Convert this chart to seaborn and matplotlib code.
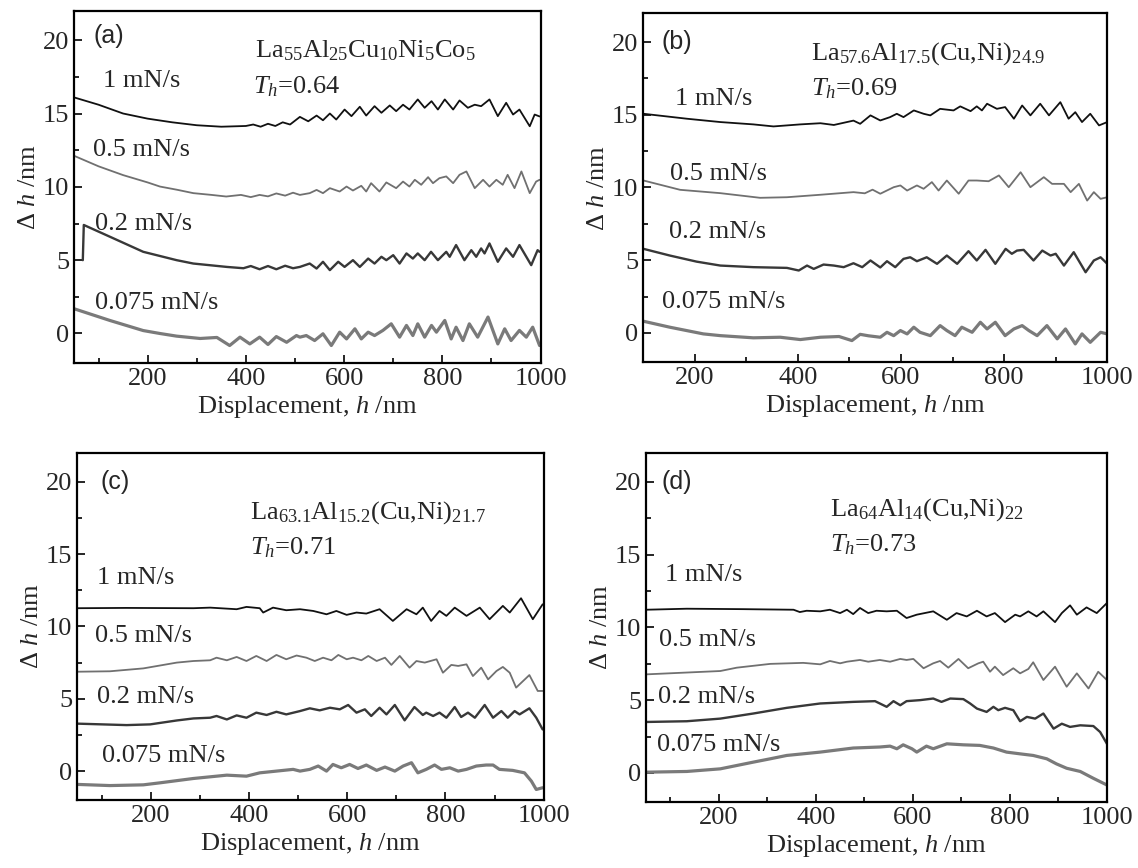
import pandas as pd
import seaborn as sns
import matplotlib.pyplot as plt
from matplotlib.ticker import MultipleLocator

# ---- panel (a) La55Al25Cu10Ni5Co5 ----
a1_x = [50, 100, 150, 200, 250, 300, 350, 400, 415, 430, 445, 460, 475, 490, 510, 527, 544, 557, 571, 584,
        601, 615, 632, 645, 662, 676, 693, 706, 720, 733, 750, 764, 778, 791, 805, 822, 835, 852, 866, 879,
        896, 913, 930, 944, 957, 978, 988, 998]
a1_y = [16.1, 15.6, 15.0, 14.65, 14.4, 14.2, 14.1, 14.15, 14.25, 14.1, 14.3, 14.15, 14.4, 14.25, 14.77, 14.47,
        14.86, 14.54, 15.0, 14.59, 15.27, 14.82, 15.46, 14.86, 15.5, 15.05, 15.55, 15.16, 15.6, 15.27, 15.96,
        15.39, 15.84, 15.27, 15.96, 15.27, 15.89, 15.39, 15.6, 15.5, 15.96, 14.82, 15.73, 14.93, 15.27, 14.13,
        14.93, 14.8]
a2_x = [50, 100, 150, 200, 225, 260, 293, 330, 360, 390, 410, 428, 445, 462, 480, 496,
        510, 530, 544, 557, 571, 591, 605, 618, 635, 645, 655, 672, 686, 706, 720, 733, 744, 757, 771, 781,
        794, 808, 822, 835, 849, 866, 883, 896, 910, 923, 933, 947, 961, 978, 991, 998]
a2_y = [12.12, 11.4, 10.8, 10.3, 10.02, 9.8, 9.57, 9.45, 9.34, 9.45, 9.3, 9.45, 9.35, 9.55, 9.4, 9.6,
        9.45, 9.57, 9.79, 9.57, 9.91, 9.68, 10.02, 9.75, 10.07, 9.68, 10.25, 9.68, 10.3, 9.91, 10.36, 10.02,
        10.48, 10.14, 10.66, 10.25, 10.59, 10.71, 10.25, 10.82, 11.05, 9.91, 10.48, 10.02, 10.48, 10.14,
        10.82, 9.91, 11.05, 9.57, 10.36, 10.48]
a3_x = [68, 70, 123, 191, 259, 293, 361, 395, 410, 428, 445, 462, 480, 496,
        510, 530, 544, 557, 571, 588, 601, 618, 632, 649, 662, 676, 686, 700, 713, 727, 740, 750, 764, 777,
        791, 808, 815, 828, 845, 859, 869, 879, 886, 896, 913, 930, 944, 957, 981, 994, 998]
a3_y = [5.0, 7.4, 6.6, 5.57, 5.0, 4.77, 4.54, 4.45, 4.6, 4.38, 4.6, 4.38, 4.62, 4.45,
        4.54, 4.77, 4.43, 4.89, 4.32, 4.89, 4.54, 5.0, 4.54, 5.11, 4.77, 5.23, 5.0, 5.34, 4.77, 5.46, 5.11,
        5.46, 5.0, 5.57, 5.0, 5.57, 5.23, 6.03, 5.0, 5.68, 5.23, 5.8, 5.46, 6.14, 4.89, 5.8, 5.23, 6.03,
        4.66, 5.68, 5.57]
a4_x = [50, 123, 191, 225, 259, 307, 341, 367, 388, 408, 428, 445, 462, 483, 503,
        510, 523, 540, 557, 574, 591, 605, 622, 635, 649, 662, 679, 696, 713, 727, 740, 750, 764, 778, 788,
        805, 818, 828, 842, 855, 872, 893, 913, 927, 940, 957, 971, 984, 998]
a4_y = [1.69, 0.89, 0.2, 0.0, -0.18, -0.34, -0.27, -0.82, -0.25, -0.71, -0.25, -0.75, -0.21, -0.6, -0.14,
        -0.25, -0.14, -0.48, -0.02, -0.82, 0.09, -0.37, 0.32, -0.37, 0.09, -0.14, 0.21, 0.66, -0.25, 0.55,
        -0.14, 0.66, -0.25, 0.55, 0.09, 0.89, -0.37, 0.43, -0.48, 0.66, -0.25, 1.12, -0.71, 0.32, -0.48,
        0.21, -0.25, 0.43, -0.82]

# ---- panel (b) La57.6Al17.5(Cu,Ni)24.9 ----
b1_x = [101, 185, 250, 314, 353, 405, 444, 470, 508, 521, 541,
        560, 579, 592, 605, 625, 644, 657, 676, 702, 715, 735, 747, 757, 767, 786, 802, 819, 835, 851, 870,
        887, 909, 925, 938, 951, 967, 984, 1000]
b1_y = [15.07, 14.73, 14.5, 14.34, 14.2, 14.34, 14.42, 14.3, 14.6, 14.38, 14.96,
        14.61, 14.84, 15.07, 14.84, 15.3, 15.07, 14.96, 15.41, 15.3, 15.58, 15.25, 15.58, 15.3, 15.76, 15.41,
        15.53, 14.73, 15.64, 14.96, 15.76, 14.96, 15.87, 14.73, 15.18, 14.5, 15.07, 14.27, 14.5]
b2_x = [101, 172, 250, 327, 379, 444, 508, 530, 545,
        560, 586, 599, 612, 631, 644, 660, 673, 689, 712, 731, 747, 770, 790, 809, 832, 851, 877, 893, 916,
        929, 945, 961, 974, 987, 1000]
b2_y = [10.48, 9.84, 9.61, 9.29, 9.33, 9.5, 9.68, 9.6, 9.85,
        9.57, 10.02, 10.14, 9.79, 10.14, 9.91, 10.37, 9.79, 10.48, 9.57, 10.48, 10.48, 10.43, 10.83, 10.02,
        11.05, 10.02, 10.71, 10.25, 10.25, 9.68, 10.25, 9.1, 9.68, 9.22, 9.33]
b3_x = [101, 152, 204, 250, 314, 379, 402, 418, 431, 450, 470, 489, 508, 525, 541,
        560, 573, 589, 605, 618, 631, 650, 670, 689, 709, 731, 747, 764, 783, 803, 815, 825, 838, 857, 874,
        890, 900, 916, 935, 958, 974, 987, 1000]
b3_y = [5.78, 5.32, 4.9, 4.63, 4.52, 4.47, 4.29, 4.63, 4.4, 4.7, 4.63, 4.52, 4.79, 4.52, 4.98,
        4.5, 4.93, 4.52, 5.09, 5.2, 4.93, 5.2, 4.75, 5.32, 4.75, 5.62, 4.98, 5.71, 4.75, 5.78, 5.44, 5.66,
        5.71, 4.98, 5.66, 5.32, 5.44, 4.63, 5.55, 4.17, 4.98, 5.2, 4.75]
b4_x = [101, 152, 217, 250, 314, 366, 405, 444, 480, 505, 521, 537,
        560, 573, 586, 599, 612, 625, 637, 657, 676, 689, 705, 718, 738, 754, 767, 783, 802, 819, 835, 848,
        864, 883, 903, 919, 938, 951, 967, 987, 1000]
b4_y = [0.8, 0.39, -0.07, -0.19, -0.34, -0.3, -0.46, -0.3, -0.25, -0.53, -0.1, -0.2,
        -0.3, 0.04, -0.19, 0.16, -0.07, 0.39, 0.04, -0.19, 0.5, 0.16, -0.19, 0.39, 0.04, 0.73, 0.27, 0.73,
        -0.19, 0.27, 0.5, 0.16, -0.19, 0.5, -0.41, 0.27, -0.76, -0.07, -0.65, 0.04, -0.07]

# ---- panel (c) La63.1Al15.2(Cu,Ni)21.7 ----
c1_x = [51, 150, 287, 321, 375, 395, 422, 429, 449, 476, 504, 531, 558, 578, 599, 619, 639, 666,
        693, 721, 741, 754, 771, 788, 802, 819, 843, 870, 890, 917, 931, 954, 978, 998]
c1_y = [11.26, 11.28, 11.26, 11.3, 11.19, 11.35, 11.26, 10.96, 11.3, 11.12, 11.19, 11.07, 10.84, 11.07,
        10.8, 10.96, 10.89, 11.19, 10.38, 11.19, 10.84, 11.3, 10.38, 11.07, 10.73, 11.3, 10.73, 11.3, 10.5,
        11.42, 10.96, 11.95, 10.5, 11.53]
c2_x = [51, 117, 185, 253, 287, 321, 334, 355, 375, 395, 415, 436, 456, 476, 497,
        517, 534, 551, 568, 582, 599, 612, 629, 643, 660, 677, 690, 707, 727, 741, 758, 782, 795, 812, 826,
        843, 856, 873, 887, 904, 917, 931, 944, 971, 988, 998]
c2_y = [6.87, 6.9, 7.1, 7.5, 7.61, 7.66, 7.84, 7.66, 7.89, 7.61, 7.96, 7.61, 8.03, 7.73, 7.99,
        7.84, 7.61, 7.84, 7.66, 8.03, 7.73, 7.84, 7.66, 7.96, 7.61, 7.84, 7.34, 7.96, 7.15, 7.61, 7.5, 7.73,
        6.8, 7.34, 7.27, 7.38, 6.57, 7.15, 6.34, 6.92, 7.2, 6.8, 5.77, 6.64, 5.54, 5.54]
c3_x = [51, 151, 199, 253, 287, 321, 334, 355, 375, 395, 415, 436, 456, 476,
        504, 524, 544, 565, 585, 602, 619, 636, 649, 666, 680, 697, 717, 737, 754, 761, 775, 788, 802, 819,
        832, 846, 860, 880, 897, 914, 927, 941, 951, 971, 985, 998]
c3_y = [3.28, 3.18, 3.23, 3.5, 3.64, 3.69, 3.81, 3.57, 3.85, 3.69, 4.04, 3.88, 4.1, 3.92,
        4.15, 4.34, 4.2, 4.38, 4.27, 4.57, 4.04, 4.27, 3.81, 4.38, 3.92, 4.57, 3.51, 4.43, 3.88, 4.04, 3.81,
        4.04, 3.69, 4.43, 3.74, 4.04, 3.69, 4.57, 3.69, 4.15, 3.69, 4.15, 3.92, 4.34, 3.69, 2.88]
c4_x = [51, 117, 185, 219, 287, 355, 395, 422, 490,
        504, 524, 541, 558, 571, 588, 605, 622, 639, 660, 677, 697, 714, 731, 744, 761, 778, 792, 809, 826,
        843, 863, 883, 897, 910, 937, 961, 975, 985, 998]
c4_y = [-0.92, -1.0, -0.95, -0.81, -0.51, -0.28, -0.35, -0.12, 0.12,
        0.0, 0.12, 0.35, 0.0, 0.46, 0.23, 0.46, 0.18, 0.42, 0.05, 0.28, 0.0, 0.35, 0.58, -0.12, 0.12, 0.42,
        0.12, 0.23, 0.0, 0.12, 0.35, 0.42, 0.42, 0.12, 0.05, -0.12, -0.69, -1.27, -1.15]

# ---- panel (d) La64Al14(Cu,Ni)22 ----
d1_x = [50, 134, 250, 354, 367, 381, 409, 429, 450, 464, 477, 491, 508, 525,
        546, 567, 587, 608, 642, 670, 690, 711, 732, 752, 769, 790, 811, 821, 838, 855, 869, 893, 907, 924,
        938, 958, 979, 1000]
d1_y = [11.21, 11.28, 11.25, 11.21, 11.05, 11.14, 11.1, 11.21, 10.98, 11.21, 10.91, 11.33, 10.98, 11.14,
        11.1, 11.14, 10.64, 10.87, 11.1, 10.52, 10.98, 10.75, 11.14, 10.75, 10.98, 10.36, 10.87, 10.75, 11.1,
        10.75, 11.1, 10.36, 10.98, 11.51, 10.87, 11.37, 10.98, 11.67]
d2_x = [50, 203, 237, 306, 374, 409, 429, 450, 464, 491, 508, 532,
        553, 574, 587, 601, 622, 642, 656, 673, 694, 714, 735, 745, 759, 769, 786, 807, 821, 838, 848, 869,
        893, 917, 938, 962, 982, 1000]
d2_y = [6.77, 7.0, 7.23, 7.49, 7.56, 7.46, 7.69, 7.53, 7.64, 7.76, 7.64, 7.76,
        7.64, 7.83, 7.76, 7.83, 7.19, 7.53, 7.69, 7.23, 7.83, 7.19, 7.53, 7.64, 6.95, 7.3, 6.72, 7.19, 6.84,
        7.14, 7.6, 6.38, 7.3, 5.92, 6.84, 5.8, 6.95, 6.38]
d3_x = [50, 134, 203, 271, 340, 409, 477, 522, 546, 560, 574, 587, 615, 642, 659, 677, 704, 718, 732,
        752, 766, 776, 790, 807, 821, 835, 852, 869, 890, 907, 924, 945, 972, 986, 1000]
d3_y = [3.5, 3.55, 3.73, 4.08, 4.47, 4.77, 4.88, 4.93, 4.54, 4.93, 4.65, 4.93, 5.0, 5.11, 4.88, 5.11,
        5.07, 4.77, 4.42, 4.19, 4.54, 4.31, 4.47, 4.31, 3.55, 3.85, 3.73, 4.08, 3.04, 3.38, 3.16, 3.27, 3.22,
        2.81, 2.0]
d4_x = [50, 134, 203, 271, 306, 340, 409, 477, 532, 553, 567, 580, 598, 608, 628, 642, 670, 704, 738,
        766, 793, 821, 848, 876, 896, 917, 945, 972, 1000]
d4_y = [0.05, 0.1, 0.28, 0.74, 0.97, 1.2, 1.43, 1.71, 1.78, 1.84, 1.66, 1.93, 1.66, 1.43, 1.84, 1.66,
        2.0, 1.93, 1.89, 1.71, 1.43, 1.31, 1.2, 0.97, 0.62, 0.32, 0.1, -0.37, -0.83]

rate_labels = ['1 mN/s', '0.5 mN/s', '0.2 mN/s', '0.075 mN/s']
panel_tags = ['(a)', '(b)', '(c)', '(d)']
alloys = [r'La$_{55}$Al$_{25}$Cu$_{10}$Ni$_5$Co$_5$',
          r'La$_{57.6}$Al$_{17.5}$(Cu,Ni)$_{24.9}$',
          r'La$_{63.1}$Al$_{15.2}$(Cu,Ni)$_{21.7}$',
          r'La$_{64}$Al$_{14}$(Cu,Ni)$_{22}$']
th_values = ['0.64', '0.69', '0.71', '0.73']
x_starts = [50, 100, 50, 50]

sns.set_style('ticks')
plt.rcParams['font.family'] = ['Liberation Serif', 'DejaVu Serif']
plt.rcParams['mathtext.fontset'] = 'custom'
plt.rcParams['mathtext.rm'] = 'Liberation Serif'
plt.rcParams['mathtext.it'] = 'Liberation Serif:italic'
plt.rcParams['axes.linewidth'] = 1.6
plt.rcParams['axes.edgecolor'] = 'black'

line_colors = ['#111111', '#707070', '#383838', '#7a7a7a']
line_widths = [1.3, 1.3, 1.7, 2.3]

curves = [
    [(a1_x, a1_y), (a2_x, a2_y), (a3_x, a3_y), (a4_x, a4_y)],
    [(b1_x, b1_y), (b2_x, b2_y), (b3_x, b3_y), (b4_x, b4_y)],
    [(c1_x, c1_y), (c2_x, c2_y), (c3_x, c3_y), (c4_x, c4_y)],
    [(d1_x, d1_y), (d2_x, d2_y), (d3_x, d3_y), (d4_x, d4_y)],
]

rects = [[0.065, 0.582, 0.410, 0.4055],
         [0.565, 0.583, 0.408, 0.402],
         [0.0677, 0.0783, 0.410, 0.400],
         [0.5677, 0.076, 0.405, 0.4025]]

# label anchor positions in data coordinates
tag_pos = [(89, 20.3), (136, 20.0), (97, 19.95), (82, 19.96)]
alloy_pos = [(418, 19.25), (425, 19.2), (402, 17.9), (429, 18.1)]
th_pos = [(414, 16.8), (425, 16.8), (402, 15.45), (429, 15.7)]
rate_pos = [
    [(109, 17.2), (89, 12.5), (93, 7.5), (93, 2.05)],
    [(162, 16.1), (152, 10.94), (151, 6.92), (136, 2.1)],
    [(90, 13.38), (87, 9.34), (90, 5.12), (100, 1.04)],
    [(89, 13.58), (77, 9.14), (75, 5.23), (72, 1.89)],
]

fs = 19
fig = plt.figure(figsize=(11.38, 8.68), dpi=100, facecolor='white')

for p in range(4):
    ax = fig.add_axes(rects[p])
    for k, (xs, ys) in enumerate(curves[p]):
        df = pd.DataFrame({'h': xs, 'dh': ys})
        sns.lineplot(data=df, x='h', y='dh', ax=ax, color=line_colors[k],
                     linewidth=line_widths[k], estimator=None, sort=False)
        ax.text(rate_pos[p][k][0], rate_pos[p][k][1], rate_labels[k],
                fontsize=fs, ha='left', va='center')
    ax.text(tag_pos[p][0], tag_pos[p][1], panel_tags[p], fontsize=fs - 1,
            family='Liberation Sans', ha='left', va='center')
    ax.text(alloy_pos[p][0], alloy_pos[p][1], alloys[p], fontsize=fs,
            ha='left', va='center')
    ax.text(th_pos[p][0], th_pos[p][1], r'$T_h$=' + th_values[p], fontsize=fs,
            ha='left', va='center')

    ax.set_xlim(x_starts[p], 1000)
    ax.set_ylim(-2, 22)
    ax.xaxis.set_major_locator(MultipleLocator(200))
    ax.xaxis.set_minor_locator(MultipleLocator(100))
    ax.yaxis.set_major_locator(MultipleLocator(5))
    ax.yaxis.set_minor_locator(MultipleLocator(2.5))
    ax.tick_params(which='both', direction='in', top=False, right=False,
                   labelsize=fs, width=1.4)
    ax.tick_params(which='major', length=6)
    ax.tick_params(which='minor', length=3.5)
    for s in ax.spines.values():
        s.set_visible(True)
        s.set_linewidth(1.6)
    ax.set_xlabel(r'Displacement, $h$ /nm', fontsize=fs, labelpad=3)
    ax.set_ylabel(r'Δ $h$ /nm', fontsize=fs, labelpad=2)

fig.savefig('out.png', dpi=100, facecolor='white')
